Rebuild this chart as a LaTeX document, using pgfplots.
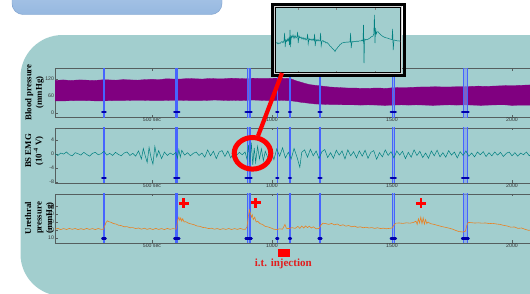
\documentclass[border=0pt]{standalone}
\usepackage{pgfplots}
\pgfplotsset{compat=1.18}
\usepackage{fontspec}
\setmainfont{Liberation Serif}
\newfontfamily\tickfont{Liberation Sans}
\definecolor{panelbg}{RGB}{162,206,206}
\definecolor{bp}{RGB}{128,0,128}
\definecolor{emg}{RGB}{0,128,128}
\definecolor{ure}{RGB}{232,130,36}
\definecolor{evline}{RGB}{70,100,255}
\definecolor{evband}{RGB}{130,160,235}
\definecolor{evmark}{RGB}{0,0,170}
\definecolor{frame}{RGB}{85,95,95}
\definecolor{boxtop}{RGB}{184,208,236}
\definecolor{boxbot}{RGB}{150,184,224}
\definecolor{boxedge}{RGB}{125,160,205}
\definecolor{redtxt}{RGB}{225,30,30}

\pgfplotsset{
  panel/.style={
    scale only axis, width=490pt, xmin=96, xmax=2137.5,
    axis line style={frame, line width=0.9pt},
    tick style={frame, line width=0.5pt},
    tick align=inside, major tick length=2.5pt,
    xtick={500,1000,1500,2000},
    xticklabels={500 sec,1000,1500,2000},
    ytick pos=left, xtick pos=both,
    ticklabel style={font=\tickfont\fontsize{5.2}{5.2}\selectfont, text=black!80, inner sep=0.8pt},
    /pgf/number format/assume math mode=true,
  },
  evl/.style={draw=evline, line width=1.25pt, forget plot},
  evthick/.style={draw=evline, line width=1.9pt, forget plot},
  band/.style={fill=evband, fill opacity=0.6, draw=none, forget plot},
  mk/.style={draw=evmark, line width=2.4pt, line cap=round, unbounded coords=jump, forget plot},
}

\newcommand{\evlines}{%
  \addplot[band] coordinates {(600,-1000) (607,-1000) (607,1000) (600,1000)} -- cycle;
  \addplot[band] coordinates {(897,-1000) (908,-1000) (908,1000) (897,1000)} -- cycle;
  \addplot[band] coordinates {(1501,-1000) (1510,-1000) (1510,1000) (1501,1000)} -- cycle;
  \addplot[band] coordinates {(1797,-1000) (1814,-1000) (1814,1000) (1797,1000)} -- cycle;
  \addplot[evl] coordinates {(600,-1000) (600,1000)};
  \addplot[evl] coordinates {(607,-1000) (607,1000)};
  \addplot[evl] coordinates {(897,-1000) (897,1000)};
  \addplot[evl] coordinates {(908,-1000) (908,1000)};
  \addplot[evl] coordinates {(1022,-1000) (1022,1000)};
  \addplot[evl] coordinates {(1075,-1000) (1075,1000)};
  \addplot[evl] coordinates {(1501,-1000) (1501,1000)};
  \addplot[evl] coordinates {(1510,-1000) (1510,1000)};
  \addplot[evl] coordinates {(1797,-1000) (1797,1000)};
  \addplot[evl] coordinates {(1814,-1000) (1814,1000)};
  \addplot[evthick] coordinates {(300,-1000) (300,1000)};
  \addplot[evthick] coordinates {(1200,-1000) (1200,1000)};
}
\newcommand{\evmarks}[1]{%
  \addplot[mk] coordinates {(293,#1) (307,#1) (307,nan) (593,#1) (614,#1) (614,nan)
    (890,#1) (915,#1) (915,nan) (1018,#1) (1026,#1) (1026,nan) (1071,#1) (1079,#1) (1079,nan)
    (1194,#1) (1206,#1) (1206,nan) (1495,#1) (1516,#1) (1516,nan) (1792,#1) (1819,#1)};
}

\begin{document}
\begin{tikzpicture}[x=1pt,y=-1pt]
\useasboundingbox (0,0) rectangle (530,293);
\clip (0,0) rectangle (530,293);
\fill[white] (0,0) rectangle (530,293);
\fill[panelbg, rounded corners=42pt] (20.5,35) rectangle (640,296);
\shade[top color=boxtop, bottom color=boxbot, draw=boxedge, rounded corners=11pt] (12,-30) rectangle (222,14.5);

% ---------- Panel 1: blood pressure
\begin{axis}[panel, at={(55pt,-117pt)}, anchor=south west, height=49pt,
  ymin=-14, ymax=159, ytick={0,60,120}]
\addplot[fill=bp, draw=bp, line width=0.3pt] coordinates {
 (96,115) (130,117) (160,115) (200,117) (230,116) (260,115) (290,117) (320,117) (350,116) (380,118)
 (410,117) (440,116) (470,118) (500,119) (530,118) (560,121) (590,120) (620,120) (650,122) (680,121)
 (710,120) (740,122) (770,121) (800,121) (830,123) (860,122) (890,121) (920,123) (950,122) (980,122)
 (1010,123) (1040,123) (1075,122) (1100,114) (1120,109) (1140,104) (1160,100) (1180,98) (1200,96)
 (1220,94) (1240,92) (1260,91) (1280,90) (1300,89) (1325,88) (1350,88) (1375,87) (1400,87) (1425,88)
 (1450,88) (1475,87) (1500,89) (1530,90) (1560,90) (1590,91) (1620,92) (1650,92) (1680,93) (1710,92)
 (1740,92) (1770,93) (1800,93) (1830,94) (1860,95) (1890,94) (1920,95) (1950,96) (1980,97) (2010,97)
 (2040,98) (2070,99) (2100,100) (2137,99)
 (2137,28) (2100,27) (2070,28) (2040,28) (2000,27) (1970,29) (1940,29) (1900,28) (1870,27) (1840,28)
 (1800,29) (1770,28) (1740,29) (1700,28) (1670,27) (1640,28) (1600,29) (1570,28) (1540,29) (1500,28)
 (1470,27) (1440,28) (1400,29) (1370,28) (1340,29) (1300,29) (1270,30) (1240,30) (1210,31) (1180,32)
 (1150,35) (1120,38) (1100,41) (1080,43) (1060,44) (1040,45) (1010,44) (980,44) (950,45) (920,46)
 (900,45) (870,44) (840,45) (820,44) (790,45) (760,46) (740,45) (700,44) (660,44) (620,45)
 (580,45) (540,44) (500,44) (460,45) (420,45) (380,44) (340,44) (300,43) (260,43) (220,44)
 (180,44) (140,43) (96,43)} -- cycle;
\evlines
\evmarks{3.5}
\end{axis}

% ---------- Panel 2: EMG
\begin{axis}[panel, at={(55pt,-183pt)}, anchor=south west, height=55pt,
  ymin=-8.3, ymax=7.5, ytick={-8,-4,0,4}]
\evlines
\addplot[emg, line width=0.5pt] coordinates {
 (96,0.1) (108,-0.4) (120,0.3) (132,0.0) (144,0.6) (156,-0.2) (168,-0.5) (180,0.4) (192,0.1) (204,-0.3)
 (216,0.5) (228,-0.1) (240,-0.6) (252,0.2) (264,0.5) (276,-0.2) (288,0.1) (300,0.8) (312,-0.3) (324,0.2)
 (336,-0.4) (348,0.5) (360,-0.1) (372,-0.5) (384,0.3) (396,0.6) (408,-0.4) (420,0.2) (432,-0.6) (444,0.9)
 (456,-1.4) (464,1.6) (472,-0.5) (480,-2.4) (488,1.9) (496,-1.0) (504,-2.9) (512,2.2) (520,-0.8) (528,1.0)
 (540,-1.3) (552,0.6) (564,-0.4) (576,0.3) (588,-0.2) (600,0.5) (606,-1.2) (612,1.3) (618,-0.9) (624,1.1)
 (636,-0.3) (648,0.4) (660,-0.5) (672,0.2) (684,0.6) (696,-0.4) (708,0.3) (720,-0.9) (732,1.2) (744,-0.5)
 (756,0.8) (768,-1.3) (780,0.6) (792,1.0) (804,-0.7) (816,0.9) (828,-1.1) (840,0.3) (852,-0.4) (864,0.5)
 (876,-0.2) (888,0.6) (896,-1.5) (902,2.6) (908,-2.8) (914,3.3) (920,-3.1) (926,1.8) (932,-2.4) (940,2.2)
 (948,-1.4) (956,1.5) (964,-1.9) (972,0.8) (984,-1.2) (996,1.0) (1008,-1.6) (1020,1.5) (1032,-0.6) (1044,1.8)
 (1056,-1.1) (1068,0.5) (1080,-1.4) (1092,1.6) (1104,-0.8) (1116,-3.8) (1124,0.5) (1136,1.2) (1148,-0.9) (1160,1.4)
 (1172,-0.5) (1184,0.9) (1196,-1.3) (1208,0.7) (1220,1.3) (1232,-1.0) (1244,0.4) (1256,-1.2) (1268,1.1) (1280,-0.3)
 (1292,0.9) (1304,-1.4) (1316,1.2) (1328,-0.5) (1340,0.7) (1352,-1.1) (1364,0.9) (1376,-0.6) (1388,1.1) (1400,-1.2)
 (1412,0.5) (1424,1.0) (1436,-1.5) (1448,0.4) (1460,-0.8) (1472,1.2) (1484,-0.4) (1496,0.7) (1508,-1.1) (1520,0.9)
 (1532,-0.3) (1544,0.8) (1556,-1.3) (1568,0.5) (1580,-0.9) (1592,1.2) (1604,-0.4) (1616,0.8) (1628,-1.0) (1640,0.3)
 (1652,-1.2) (1664,0.9) (1676,-0.5) (1688,1.1) (1700,-0.8) (1712,0.4) (1724,-0.9) (1736,1.0) (1748,-0.3) (1760,0.6)
 (1772,-1.1) (1784,0.7) (1796,-0.4) (1808,0.9) (1820,-0.6) (1832,0.3) (1844,-0.8) (1856,0.6) (1868,-0.2) (1880,0.7)
 (1892,-0.7) (1904,0.4) (1916,-0.5) (1928,0.6) (1940,-0.3) (1952,0.5) (1964,-0.7) (1976,0.2) (1988,0.6) (2000,-0.5)
 (2012,0.4) (2024,-0.6) (2036,0.3) (2048,-0.2) (2060,0.6) (2072,-0.5) (2084,0.4) (2096,-0.3) (2108,0.5) (2120,-0.6)
 (2132,0.3)};
\evmarks{-6.95}
\end{axis}

% ---------- Panel 3: urethral pressure
\begin{axis}[panel, at={(55pt,-243pt)}, anchor=south west, height=49pt,
  ymin=3.75, ymax=65, ytick={10,20,30,40,50}]
\evlines
\addplot[ure, line width=0.6pt] coordinates {
 (96,21) (108,22) (120,20.5) (132,21.8) (144,20.6) (156,22) (168,20.8) (180,21.9) (192,20.5) (204,21.7)
 (216,20.6) (228,22) (240,20.7) (252,21.8) (264,20.5) (276,21.9) (288,20.8) (298,21) (302,24) (308,29)
 (314,31.5) (320,30.5) (330,29.5) (340,28) (350,27.5) (360,26) (372,25.5) (384,24) (396,24.2) (408,22.8)
 (420,23) (432,21.8) (444,22.5) (456,21) (468,22.2) (480,20.8) (492,21.9) (504,20.6) (516,22) (528,20.7)
 (540,21.8) (552,20.5) (564,22) (576,20.8) (588,21.8) (600,21) (604,26) (608,33) (612,36) (616,32)
 (620,35) (624,31) (628,34) (634,30) (640,30.5) (652,28.5) (664,27.5) (676,26.5) (688,25) (700,24.5)
 (712,23.2) (724,22.8) (736,21.8) (748,22.2) (760,21) (772,21.8) (784,20.6) (796,21.7) (808,20.7) (820,21.9)
 (832,20.6) (844,21.8) (856,20.7) (868,22) (880,20.8) (890,21) (896,24) (902,38) (906,45) (910,41)
 (914,36) (918,39) (922,33) (928,36) (934,30) (940,31) (950,28) (960,27) (972,24.5) (984,23.8)
 (996,22.5) (1008,21) (1020,20.5) (1032,21.5) (1044,21) (1054,27) (1060,22) (1072,21.8) (1084,23) (1096,22)
 (1108,24.5) (1116,22) (1124,25) (1132,22.5) (1140,25) (1148,23) (1156,24.8) (1164,22.5) (1172,24) (1184,21.5)
 (1196,22) (1204,26) (1212,28.5) (1224,28) (1236,27) (1248,28.2) (1260,26.5) (1272,27.5) (1284,25.5) (1296,26.5)
 (1308,24.8) (1320,25.6) (1332,24) (1344,24.8) (1356,23.3) (1368,24) (1380,22.8) (1392,23.5) (1404,22.5) (1416,23)
 (1428,22) (1440,22.8) (1452,21.8) (1464,22.3) (1476,21.5) (1488,22) (1500,22.5) (1508,26) (1516,28.5) (1530,28.8)
 (1545,28.2) (1560,29) (1575,28.5) (1590,29.5) (1600,31) (1605,27) (1610,34) (1615,29) (1620,36) (1625,28)
 (1630,35) (1635,27.5) (1640,33) (1645,28) (1650,30) (1660,28) (1675,27) (1690,25.8) (1705,24.5) (1720,23.5)
 (1735,22.5) (1750,21.3) (1765,19.5) (1780,18) (1795,17.5) (1806,18.5) (1812,26) (1818,29.5) (1830,29.2) (1845,28.7)
 (1860,29) (1875,28.5) (1890,28.8) (1905,28) (1920,28.3) (1935,27.5) (1950,27) (1965,25.8) (1980,25) (1995,23.5)
 (2010,23.8) (2025,22) (2040,22.5) (2055,20.8) (2070,19.5) (2085,20.5) (2100,19.8) (2115,20.5) (2130,20) (2137,20.2)};
\evmarks{9.6}
\addplot[only marks, mark=+, red, mark size=5pt, line width=2.8pt] coordinates {(633,53.5) (933,54) (1621,53.5)};
\end{axis}

% ---------- y labels
\node[rotate=90, align=center, font=\bfseries\fontsize{8.8}{10.5}\selectfont] at (34.5,92.5) {Blood pressure\\(mmHg)};
\node[rotate=90, align=center, font=\bfseries\fontsize{8.8}{10.5}\selectfont] at (34.5,151) {BS EMG\\(10\textsuperscript{-4} V)};
\node[rotate=90, align=center, font=\bfseries\fontsize{8.8}{10.5}\selectfont] at (39.5,218) {Urethral\\pressure\\(mmHg)};

% ---------- inset
\begin{axis}[scale only axis, at={(275.5pt,-72.5pt)}, anchor=south west, width=125pt, height=65pt,
  xmin=275.5, xmax=400.5, ymin=-30.5, ymax=34.5,
  axis background/.style={fill=panelbg},
  axis line style={black, line width=0.9pt},
  xtick={298,336,375}, xticklabels={}, ytick=\empty,
  tick style={gray, line width=0.4pt}, tick align=inside, major tick length=2pt]
\addplot[emg, line width=0.5pt] coordinates {
 (276,-1.3) (277,-0.5) (278,-2) (279,-0.8) (280,-1.5) (281,-0.3) (282,0.5) (283,-0.8) (284,1.5) (284.6,9)
 (285.2,-5) (285.8,2) (286.5,0.5) (287.3,3) (288,1) (289,4) (289.5,-3) (290,12) (290.6,-5) (291.2,6)
 (292,4.5) (293,7) (294,3.5) (295,6.5) (296,4) (297,5.5) (297.6,10) (298.2,-1) (299,6) (300,4)
 (301,5) (302,3) (303,4.5) (304,2.5) (305,4) (306,2) (307,3.5) (307.6,8) (308.2,-2) (309,3.5)
 (310,2) (311,3) (312,1.5) (313,3) (314,1.5) (314.6,8) (315.2,-4) (316,2.5) (317,1) (318,2.5)
 (319,1) (320,1.5) (320.6,9) (321.2,-4) (322,0.8) (323,1.5) (324,0) (325,0.5) (326,-1) (327,-0.5)
 (328,-1.5) (329,-2.5) (330,-4) (331,-4.7) (332,-6) (333,-7) (334,-8) (335,-9.5) (336,-7.5) (337,-6.5)
 (338,-5) (339,-4) (340,-2.5) (341,-2) (342,-1) (343,-0.8) (344,-0.5) (345,-0.2) (346,-0.3) (347,0)
 (348,-0.3) (349,0.2) (350,0) (350.6,9) (351.2,-6) (352,0.5) (353,0) (354,0.5) (355,0.3) (356,0.5)
 (357,1) (358,0.5) (359,1) (360,1.2) (361,1) (362,2) (363,1) (363.5,17) (364,-21) (364.6,3)
 (365.5,2) (366,2.5) (367,2.2) (368,2.7) (369,3.5) (370,4) (371,5) (372,5.5) (373,6) (373.8,8)
 (374.4,27) (375,-1) (375.6,14) (376.2,8) (377,10) (378,10.3) (379,9) (380,8) (381,7) (382,6.2)
 (383,5.5) (384,5) (385,4.5) (386,4.2) (387,4) (388,3.7) (389,3.3) (390,3) (391,2.7) (392,2.5)
 (392.6,13) (393.2,-8) (394,2) (395,1.8) (396,1.5) (397,1.2) (398,1) (399,1.2) (400,0.8) (401,1)};
\end{axis}
\draw[gray!35, line width=0.9pt] (274.3,6.3) rectangle (401.7,73.7);
\draw[black, line width=3pt] (272.2,4.2) rectangle (404.8,75.8);

% ---------- annotations
\draw[red, line width=4.2pt] (282,73) -- (258,136);
\draw[red, line width=5pt] (252.5,153.3) ellipse (18.3 and 15.8);
\fill[red] (278,249.3) rectangle (290,257.3);
\node[anchor=base, text=redtxt, font=\bfseries\fontsize{11}{12}\selectfont, inner sep=0pt] at (283.3,266.5) {i.t. injection};
\end{tikzpicture}
\end{document}
